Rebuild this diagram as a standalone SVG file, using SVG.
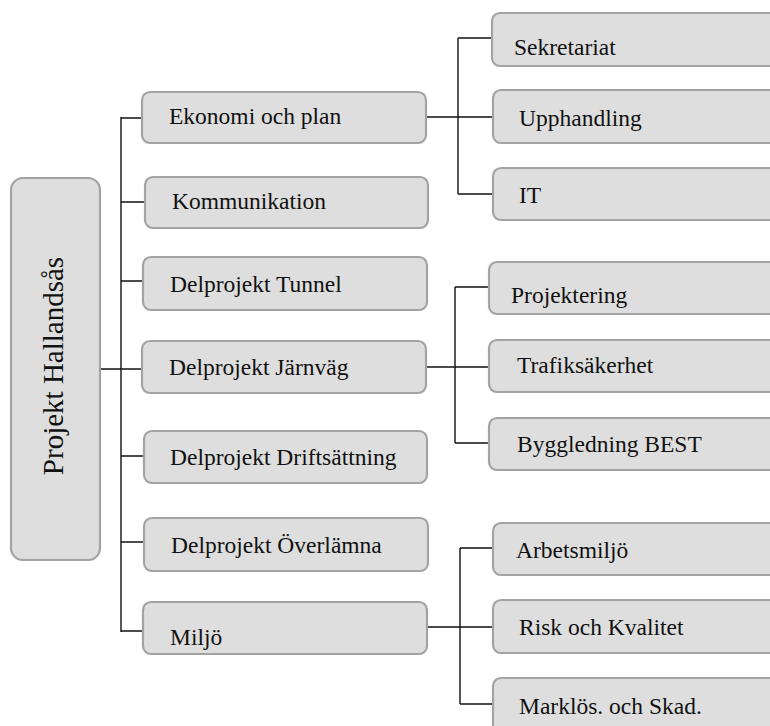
<svg xmlns="http://www.w3.org/2000/svg" width="770" height="726" viewBox="0 0 770 726">
<style>
.box{fill:#dedede;stroke:#a3a3a3;stroke-width:2.2}
text{font-family:'Liberation Serif',serif;fill:#111}
.t{font-size:23.5px}
.rt{font-size:29px}
.c{stroke:#111;stroke-width:1.4;fill:none}
</style>
<rect width="770" height="726" fill="#ffffff"/>
<g id="connectors">
<path class="c" d="M121,117 V632"/>
<path class="c" d="M121,118 H142 M121,202 H145 M121,281 H143 M100,369 H142 M121,456 H144 M121,542 H144 M121,631 H143"/>
<path class="c" d="M426,117 H493 M458,38 V194 M458,38 H492 M458,194 H493"/>
<path class="c" d="M426,367 H489 M455,287 V443 M455,287 H489 M455,443 H489"/>
<path class="c" d="M427,627 H493 M460,548 V704 M460,548 H493 M460,704 H493"/>
</g>
<g id="root"><rect class="box" x="11" y="178" width="89" height="382" rx="12"/><text class="rt" transform="translate(63,366) rotate(-90)" text-anchor="middle">Projekt Hallandsås</text></g>
<g id="ekonomi"><rect class="box" x="142" y="92" width="284" height="51" rx="8"/><text class="t" x="169" y="124">Ekonomi och plan</text></g>
<g id="kommunikation"><rect class="box" x="145" y="177" width="283" height="51" rx="8"/><text class="t" x="172" y="209">Kommunikation</text></g>
<g id="tunnel"><rect class="box" x="143" y="257" width="284" height="53" rx="8"/><text class="t" x="170" y="292">Delprojekt Tunnel</text></g>
<g id="jarnvag"><rect class="box" x="142" y="341" width="284" height="52" rx="8"/><text class="t" x="169" y="375">Delprojekt Järnväg</text></g>
<g id="driftsattning"><rect class="box" x="144" y="431" width="283" height="52" rx="8"/><text class="t" x="170" y="465">Delprojekt Driftsättning</text></g>
<g id="overlamna"><rect class="box" x="144" y="518" width="284" height="53" rx="8"/><text class="t" x="171" y="553">Delprojekt Överlämna</text></g>
<g id="miljo"><rect class="box" x="143" y="602" width="284" height="52" rx="8"/><text class="t" x="170" y="645">Miljö</text></g>
<g id="sekretariat"><rect class="box" x="492" y="13" width="300" height="53" rx="8"/><text class="t" x="514" y="55">Sekretariat</text></g>
<g id="upphandling"><rect class="box" x="493" y="90" width="300" height="53" rx="8"/><text class="t" x="519" y="126">Upphandling</text></g>
<g id="it"><rect class="box" x="493" y="168" width="300" height="52" rx="8"/><text class="t" x="519" y="203">IT</text></g>
<g id="projektering"><rect class="box" x="489" y="262" width="300" height="52" rx="8"/><text class="t" x="511" y="303">Projektering</text></g>
<g id="trafiksakerhet"><rect class="box" x="489" y="340" width="300" height="52" rx="8"/><text class="t" x="517" y="373">Trafiksäkerhet</text></g>
<g id="byggledning"><rect class="box" x="489" y="418" width="300" height="52" rx="8"/><text class="t" x="517" y="452">Byggledning BEST</text></g>
<g id="arbetsmiljo"><rect class="box" x="493" y="523" width="300" height="52" rx="8"/><text class="t" x="516" y="558">Arbetsmiljö</text></g>
<g id="risk"><rect class="box" x="493" y="600" width="300" height="53" rx="8"/><text class="t" x="519" y="635">Risk och Kvalitet</text></g>
<g id="marklos"><rect class="box" x="493" y="678" width="300" height="60" rx="8"/><text class="t" x="519" y="714">Marklös. och Skad.</text></g>
</svg>
